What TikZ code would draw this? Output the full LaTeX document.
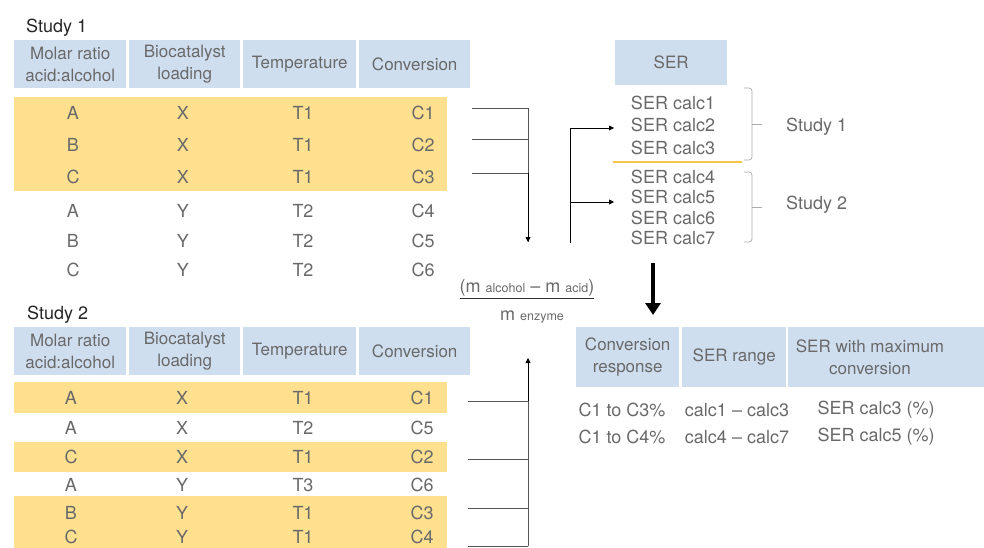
\documentclass[tikz,border=0pt]{standalone}
\usepackage{fontspec}
\setmainfont{TeX Gyre Heros}
\usetikzlibrary{arrows.meta}
\definecolor{hdr}{RGB}{207,222,239}
\definecolor{yel}{RGB}{255,224,143}
\definecolor{txt}{RGB}{105,105,105}
\definecolor{lin}{RGB}{85,85,85}
\definecolor{brc}{RGB}{170,170,170}
\definecolor{org}{RGB}{245,196,72}
\begin{document}
\begin{tikzpicture}[x=1pt,y=-1pt,
  every node/.style={inner sep=0pt,text=txt,font=\fontsize{18}{22}\selectfont},
  hcell/.style={fill=hdr,align=center,minimum height=48,anchor=north west,font=\fontsize{17}{22}\selectfont},
  title/.style={text=black!85,anchor=west,font=\fontsize{18}{20}\selectfont},
  conn/.style={draw=lin,line width=0.8pt},
  arr/.style={draw=black,line width=0.8pt,-{Triangle[length=5pt,width=5pt]}},
  brace/.style={draw=brc,line width=0.7pt,rounded corners=3pt}]
\useasboundingbox (0,0) rectangle (984,548);

% ---------- Study 1 ----------
\node[title] (t1) at (26,28) {Study 1};
\node[hcell,minimum width=112] (a1) at (14,40) {Molar ratio\\acid:alcohol};
\node[hcell,minimum width=111] (a2) at (129,40) {Biocatalyst\\loading};
\node[hcell,minimum width=113] (a3) at (243,40) {Temperature};
\node[hcell,minimum width=111] (a4) at (359,40) {Conversion};
\fill[yel] (14,97) rectangle (447,191);
\foreach \r/\y/\m/\b/\t/\c in {1/113/A/X/T1/C1,2/145/B/X/T1/C2,3/177/C/X/T1/C3,4/211/A/Y/T2/C4,5/241/B/Y/T2/C5,6/270/C/Y/T2/C6}{
  \node (p\r m) at (73,\y) {\m};
  \node (p\r b) at (183,\y) {\b};
  \node (p\r t) at (303,\y) {\t};
  \node (p\r c) at (423,\y) {\c};
}

% ---------- Study 2 ----------
\node[title] (t2) at (27,315) {Study 2};
\node[hcell,minimum width=112] (b1) at (14,327) {Molar ratio\\acid:alcohol};
\node[hcell,minimum width=111] (b2) at (129,327) {Biocatalyst\\loading};
\node[hcell,minimum width=113] (b3) at (243,327) {Temperature};
\node[hcell,minimum width=111] (b4) at (359,327) {Conversion};
\fill[yel] (14,382) rectangle (447,413);
\fill[yel] (14,442) rectangle (447,472);
\fill[yel] (14,496) rectangle (447,548);
\foreach \r/\y/\m/\b/\t/\c in {1/398/A/X/T1/C1,2/428/A/X/T2/C5,3/457/C/X/T1/C2,4/485/A/Y/T3/C6,5/513/B/Y/T1/C3,6/537/C/Y/T1/C4}{
  \node (q\r m) at (71,\y) {\m};
  \node (q\r b) at (182,\y) {\b};
  \node (q\r t) at (303,\y) {\t};
  \node (q\r c) at (422,\y) {\c};
}

% ---------- connectors study 1 ----------
\coordinate (s1a) at (472,108); \coordinate (j1a) at (528,108);
\coordinate (s1b) at (472,139); \coordinate (j1b) at (528,139);
\coordinate (s1c) at (472,173); \coordinate (j1c) at (528,173);
\coordinate (e1) at (528,242);
\draw[conn] (s1a) -- (j1a);
\draw[conn] (s1b) -- (j1b);
\draw[conn] (s1c) -- (j1c);
\draw[conn] (j1a) -- (e1);
\draw[arr] (j1c) -- (e1);

% ---------- connectors study 2 ----------
\coordinate (s2a) at (468,401); \coordinate (j2a) at (528,401);
\coordinate (s2b) at (468,459); \coordinate (j2b) at (528,459);
\coordinate (s2c) at (468,508); \coordinate (j2c) at (528,508);
\coordinate (s2d) at (468,546); \coordinate (j2d) at (528,546);
\coordinate (e2) at (528,358);
\draw[conn] (s2a) -- (j2a);
\draw[conn] (s2b) -- (j2b);
\draw[conn] (s2c) -- (j2c);
\draw[conn] (s2d) -- (j2d);
\draw[conn] (j2d) -- (j2a);
\draw[arr] (j2a) -- (e2);

% ---------- fraction ----------
\node (num) at (527,288) {(m {\fontsize{12.5}{14}\selectfont alcohol} -- m {\fontsize{12.5}{14}\selectfont acid})};
\draw[draw=black!80,line width=0.7pt] (num.south west) ++(0,2) coordinate (ul1) -- (num.south east |- ul1);
\node (den) at (532,317) {m {\fontsize{12.5}{14}\selectfont enzyme}};

% ---------- SER column ----------
\node[fill=hdr,minimum width=112,minimum height=45,anchor=north west,font=\fontsize{17}{20}\selectfont] (ser) at (615,40) {SER};
\foreach \i/\y in {1/103,2/125,3/148,4/177,5/197,6/218,7/238}{
  \node (c\i) at (673,\y) {SER calc\i};
}
\draw[draw=org,line width=2.5pt] (613,162) -- (742,162);

% arrows into SER
\coordinate (v0) at (570,243);
\coordinate (v1) at (570,128); \coordinate (h1) at (614,128);
\coordinate (v2) at (570,202); \coordinate (h2) at (614,202);
\draw[conn,draw=black] (v0) -- (v1);
\draw[arr] (v1) -- (h1);
\draw[arr] (v2) -- (h2);

% braces
\draw[brace] (744,88) -- (752,88) -- (752,160) -- (744,160);
\draw[brace] (752,124) -- (762,124);
\draw[brace] (744,172) -- (752,172) -- (752,242) -- (744,242);
\draw[brace] (752,207) -- (762,207);
\node[anchor=west] (st1) at (786,127) {Study 1};
\node[anchor=west] (st2) at (786,205) {Study 2};

% bold arrow
\coordinate (ba) at (653,263); \coordinate (bb) at (653,315);
\draw[line width=4pt,-{Triangle[length=12pt,width=15pt]}] (ba) -- (bb);

% ---------- result table ----------
\node[hcell,minimum width=103,minimum height=60] (r1) at (576,327) {Conversion\\response};
\node[hcell,minimum width=104,minimum height=60] (r2) at (682,327) {SER range};
\fill[hdr] (788,327) rectangle (984,387);
\node[align=center,font=\fontsize{17}{22}\selectfont] (r3) at (870,357) {SER with maximum\\conversion};
\node (d11) at (622,410) {C1 to C3\%};
\node (d12) at (737,410) {calc1 -- calc3};
\node (d13) at (876,410) {SER calc3 (\%)};
\node (d21) at (622,437) {C1 to C4\%};
\node (d22) at (737,437) {calc4 -- calc7};
\node (d23) at (876,437) {SER calc5 (\%)};
\end{tikzpicture}
\end{document}
